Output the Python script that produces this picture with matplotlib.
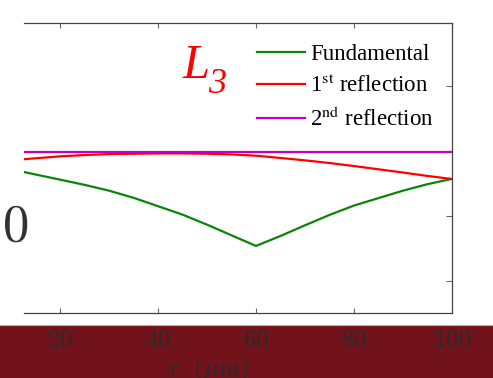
import matplotlib
matplotlib.use("Agg")
import matplotlib.pyplot as plt
from matplotlib.patches import Rectangle
from matplotlib.ticker import FuncFormatter

plt.rcParams["font.family"] = ["Liberation Serif", "DejaVu Serif"]
plt.rcParams["mathtext.fontset"] = "cm"

# position along the device (um)
x_um = [10, 15, 20, 25, 30, 35, 40, 45, 50, 55, 60, 65, 70, 75, 80, 85, 90, 95, 100]

fundamental = [0.72, 0.64, 0.56, 0.48, 0.39, 0.28, 0.15, 0.02, -0.135, -0.30,
               -0.464, -0.31, -0.145, 0.015, 0.16, 0.275, 0.39, 0.49, 0.572]
reflection_1 = [0.86, 0.89, 0.92, 0.94, 0.955, 0.96, 0.965, 0.965, 0.96, 0.95,
                0.93, 0.895, 0.858, 0.817, 0.77, 0.72, 0.67, 0.617, 0.57]
reflection_2 = [0.98] * len(x_um)

x_ticks = [20, 40, 60, 80, 100]
y_ticks = [-1, 0, 1, 2]

W, H = 493, 378
fig = plt.figure(figsize=(W / 100, H / 100), dpi=100)
ax = fig.add_axes([24 / W, 1 - 313 / H, (452 - 24) / W, (313 - 23) / H])

ax.plot(x_um, fundamental, color="#0a850a", lw=1.6, label="Fundamental")
ax.plot(x_um, reflection_1, color="#ff0000", lw=1.6,
        label=r"1$^{\rm st}$ reflection")
ax.plot(x_um, reflection_2, color="#c000c0", lw=1.6,
        label=r"2$^{\rm nd}$ reflection")

ax.set_xlim(12.65, 100)
ax.set_ylim(-1.5, 2.98)
ax.set_xticks(x_ticks)
ax.set_yticks(y_ticks)
ax.xaxis.set_major_formatter(FuncFormatter(lambda v, p: f"${v:g}$"))

for side in ["top", "bottom", "right"]:
    ax.spines[side].set_color("#444444")
    ax.spines[side].set_linewidth(0.9)
ax.spines["left"].set_visible(False)

ax.tick_params(axis="x", direction="in", top=True, bottom=True, length=3.5,
               width=0.8, color="#666666", labelsize=18, labelcolor="#2a2a2a",
               pad=12)
ax.tick_params(axis="y", direction="in", left=False, right=True, length=4,
               width=0.8, color="#666666", labelleft=False, labelright=False)

leg = ax.legend(loc="upper left", bbox_to_anchor=(257 / W, 1 - 44 / H),
                bbox_transform=fig.transFigure, frameon=False, fontsize=16.5,
                handlelength=2.1, handletextpad=0.22, labelspacing=0.42,
                borderpad=0, borderaxespad=0)
for t in leg.get_texts():
    t.set_math_fontfamily("stix")

# L_3 label, subscript set by hand so it sits low and slanted
fig.text(183 / W, 1 - 78 / H, "L", color="#ff0000", fontsize=35,
         style="italic", ha="left", va="baseline")
fig.text(208 / W, 1 - 93 / H, "3", color="#ff0000", fontsize=26,
         style="italic", ha="left", va="baseline")

# dark band under the axes
fig.patches.append(Rectangle((0, 0), 1, 1 - 325 / H, transform=fig.transFigure,
                             facecolor="#72121a", edgecolor="none", zorder=-2))
fig.lines.append(plt.Line2D([0, 1], [1 - 325 / H] * 2, transform=fig.transFigure,
                            color="#b8b0b0", lw=0.8, zorder=-1))

fig.text(207 / W, 3 / H, r"$x\ \ (\mu{\rm m})$", fontsize=18, color="#2a2a2a",
         ha="center", va="baseline")
fig.text(28 / W, 1 - 228 / H, r"$0$", fontsize=38, color="#333333",
         ha="right", va="center")

fig.savefig("out.png", dpi=100, facecolor="white")
